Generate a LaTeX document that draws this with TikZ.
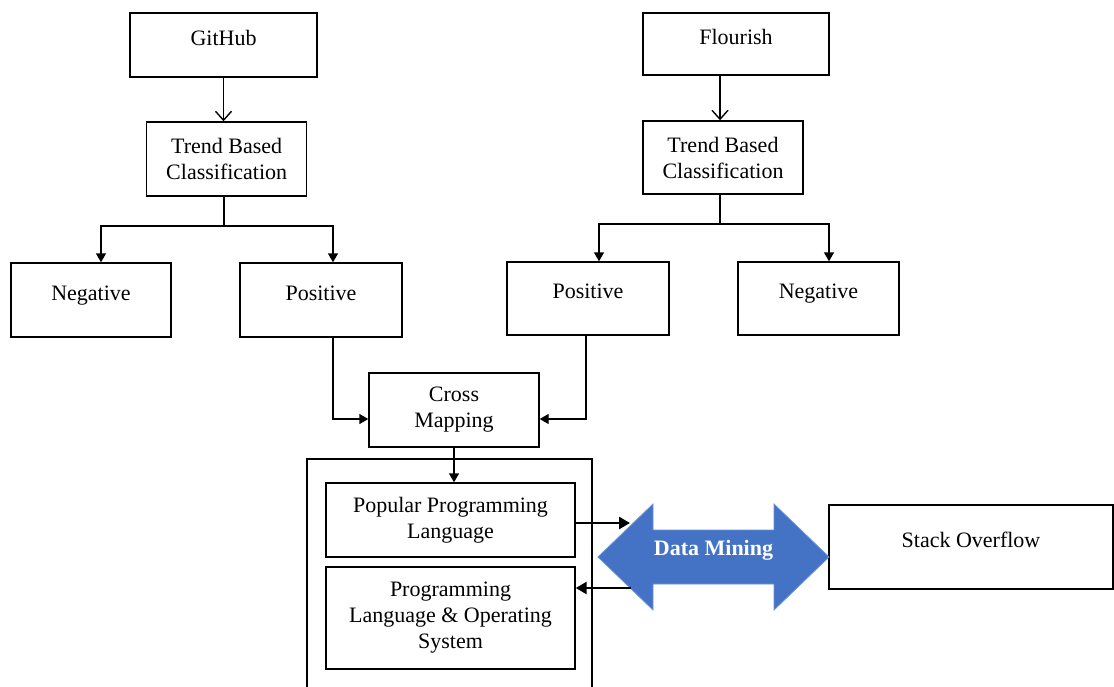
\documentclass[tikz,border=0pt]{standalone}
\usepackage{fontspec}
\setmainfont{Liberation Serif}
\usetikzlibrary{arrows.meta}
\definecolor{dmblue}{HTML}{4472C4}
\definecolor{dmedge}{HTML}{6A93D8}
\begin{document}
\begin{tikzpicture}[x=1pt,y=-1pt,
  box/.style={draw, line width=1.4pt, rectangle, inner sep=0pt, align=center,
    font=\fontsize{22}{26}\selectfont},
  one/.style={text height=15pt, text depth=15pt},
  conn/.style={line width=1.4pt},
  tri/.style={conn, -{Triangle[length=9pt,width=10pt]}},
  vee/.style={conn, -{Straight Barb[length=9pt,width=16pt,line width=1.4pt]}},
  heavy/.style={line width=2.6pt, -{Triangle[length=11pt,width=12pt]}},
]
\useasboundingbox (0,0) rectangle (1114,686);
\clip (0,0) rectangle (1114,686);

% left branch
\node[box, one, minimum width=187pt, minimum height=64pt] (gh) at (223.5,45) {GitHub};
\node[box, minimum width=160pt, minimum height=74pt] (tl) at (226.7,159) {Trend Based\\Classification};
\node[box, one, minimum width=160pt, minimum height=74pt] (nL) at (91,300) {Negative};
\node[box, one, minimum width=162pt, minimum height=74pt] (pL) at (321,300) {Positive};

% right branch
\node[box, one, minimum width=186pt, minimum height=62pt] (fl) at (736,44) {Flourish};
\node[box, minimum width=160pt, minimum height=73pt] (tr) at (723,157.5) {Trend Based\\Classification};
\node[box, one, minimum width=162pt, minimum height=73pt] (pR) at (588,298.5) {Positive};
\node[box, one, minimum width=161pt, minimum height=73pt] (nR) at (818.5,298.5) {Negative};

% middle
\node[box, minimum width=170pt, minimum height=74pt] (cm) at (454,410) {Cross\\Mapping};
\node[box, minimum width=285pt, minimum height=241pt] (outer) at (449.5,579.5) {};
\node[box, minimum width=249pt, minimum height=74pt] (pp) at (450.5,520) {Popular Programming\\Language};
\node[box, minimum width=249pt, minimum height=102pt] (po) at (450.5,618) {Programming\\Language \& Operating\\System};
\node[box, one, minimum width=284pt, minimum height=84pt] (so) at (971,547) {Stack Overflow};

% double arrow
\coordinate (dtipL) at (598,557);
\coordinate (dtipR) at (829,557);
\fill[dmblue, draw=dmedge, line width=0.8pt] (dtipL) -- (653,504) -- (653,530) -- (774,530) -- (774,504)
  -- (dtipR) -- (774,610) -- (774,584) -- (653,584) -- (653,610) -- cycle;
\node[font=\fontsize{22}{26}\selectfont\bfseries, text=white, inner sep=0pt] (dm) at (713.5,550) {Data Mining};
\coordinate (dmA) at (630,523);
\coordinate (dmB) at (631,588);

% connectors left
\coordinate (sl) at (224,226);
\draw[vee] (gh.south) -- (gh.south |- tl.north);
\draw[conn] (sl |- tl.south) -- (sl);
\draw[tri] (sl) -| ([xshift=10pt]nL.north);
\draw[tri] (sl) -| ([xshift=12pt]pL.north);

% connectors right
\coordinate (sr) at (720,224);
\draw[vee] (sr |- fl.south) -- (sr |- tr.north);
\draw[conn] (sr |- tr.south) -- (sr);
\draw[tri] (sr) -| ([xshift=11pt]pR.north);
\draw[tri] (sr) -| ([xshift=10.5pt]nR.north);

% to cross mapping
\draw[tri] ([xshift=12pt]pL.south) |- ([yshift=-9pt]cm.west);
\draw[tri] ([xshift=-2pt]pR.south) |- ([yshift=-9pt]cm.east);
\draw[tri] (cm.south) -- (cm.south |- pp.north);

% data mining arrows
\draw[heavy] (pp.east |- dmA) -- (dmA);
\draw[heavy] (dmB) -- (po.east |- dmB);
\end{tikzpicture}
\end{document}
